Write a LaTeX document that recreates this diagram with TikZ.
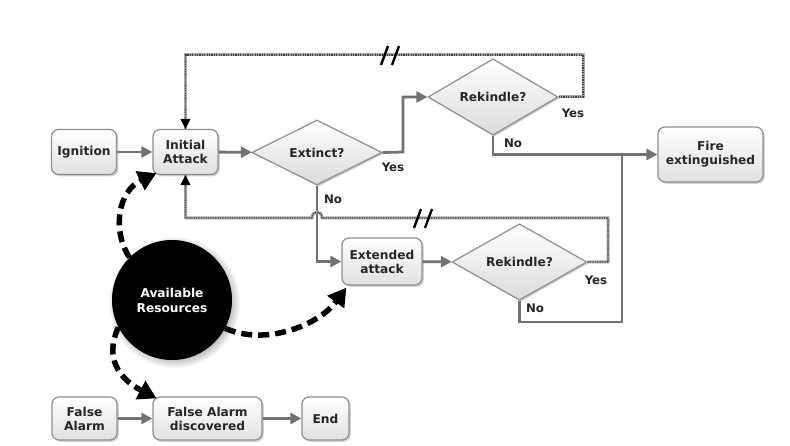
\documentclass[tikz,border=0pt]{standalone}
\usepackage{fontspec}
\setmainfont{DejaVu Sans}
\usetikzlibrary{arrows.meta,shapes.geometric,shadows}
\definecolor{flowgray}{HTML}{727272}
\definecolor{edgegray}{HTML}{8E8E8E}
\begin{document}
\begin{tikzpicture}[x=1pt,y=-1pt,
  txt/.style={font=\bfseries\fontsize{12.2}{14}\selectfont, text=black!85, align=center},
  box/.style={txt, draw=edgegray, line width=1.2pt, rounded corners=7pt, top color=white, bottom color=black!12,
    drop shadow={shadow xshift=1.8pt, shadow yshift=-1.8pt, opacity=0.35}, inner sep=1pt},
  dia/.style={txt, diamond, draw=edgegray, line width=1.2pt, top color=white, bottom color=black!14,
    drop shadow={shadow xshift=1.5pt, shadow yshift=-1.5pt, opacity=0.4}, inner sep=0pt},
  lab/.style={font=\bfseries\fontsize{11.8}{13}\selectfont, text=black!85},
  flow/.style={draw=flowgray, line width=2.8pt, -{Triangle[length=11pt,width=11pt]}},
  plain/.style={draw=flowgray, line width=2.8pt},
  fb/.style={draw=black!75, line width=1.3pt, dash pattern=on 1.2pt off 1.2pt,
    preaction={draw=black!35, line width=3pt, solid, -},
    -{Triangle[length=10pt,width=10pt,color=black]}},
  res/.style={draw=black, line width=5.5pt, dash pattern=on 11pt off 6pt,
    -{Triangle[length=18pt,width=20pt]}},
  brk/.style={draw=black, line width=2.4pt}
]
\useasboundingbox (0,0) rectangle (790,446);
\fill[white] (0,0) rectangle (790,446);

% boxes
\node[box, minimum width=65pt, minimum height=45pt] (ign) at (84,152) {Ignition};
\node[box, minimum width=65pt, minimum height=45pt] (ia) at (185.5,152) {Initial\\Attack};
\node[box, minimum width=105pt, minimum height=55pt] (fe) at (710.5,154.5) {Fire\\extinguished};
\node[box, minimum width=80pt, minimum height=47pt] (xa) at (382,261.5) {Extended\\attack};
\node[box, minimum width=65pt, minimum height=43pt] (fa) at (84.5,418.5) {False\\Alarm};
\node[box, minimum width=109pt, minimum height=43pt] (fad) at (207.5,418.5) {False Alarm\\discovered};
\node[box, minimum width=47pt, minimum height=43pt] (end) at (325.5,418.5) {End};

% diamonds
\node[dia, minimum width=130pt, minimum height=65pt] (ext) at (317,152.5) {Extinct?};
\node[dia, minimum width=130pt, minimum height=66pt] (rk1) at (493,97) {Rekindle?};
\node[dia, minimum width=135pt, minimum height=66pt] (rk2) at (519.5,262) {Rekindle?};

% resources
\node[circle, fill=black, minimum size=120pt, inner sep=0pt, align=center,
  text=white, font=\bfseries\fontsize{12.2}{15}\selectfont,
  circular drop shadow={shadow xshift=2pt, shadow yshift=-2pt, opacity=0.5}] (res) at (172,300) {Available\\Resources};

% helper coordinates
\coordinate (c1) at (403,152);
\coordinate (j) at (622,155);
\coordinate (b2) at (518,322);
\coordinate (t1) at (583,55);
\coordinate (t2) at (608,218);
\coordinate (h1) at (322,218);
\coordinate (h2) at (312,218);

% flow
\draw[flow] (ign) -- (ia);
\draw[flow] (ia) -- (ext);
\draw[flow] (ext.east) -- (c1) |- (rk1.west);
\draw[flow] (rk1.south) |- (fe.west);
\draw[plain] (rk2.south) |- (b2) -| (j);
\draw[flow] (ext.south) |- (xa.west);
\draw[flow] (xa) -- (rk2);
\draw[flow] (fa) -- (fad);
\draw[flow] (fad) -- (end);

% feedback loops
\draw[fb] (rk1.east) -| (t1) -| (ia.north);
\draw[fb] (rk2.east) -| (t2) -- (h1) .. controls +(0,-8) and +(0,-8) .. (h2) -| (ia.south);

% break marks
\draw[brk] (381,65) -- (388,46);
\draw[brk] (392,65) -- (399,46);
\draw[brk] (414,228) -- (421,209);
\draw[brk] (425,228) -- (432,209);

% resource arrows
\draw[res] (res.135) .. controls +(-18,-28) and +(-38,18) .. ([xshift=4pt,yshift=2pt]ia.south west);
\draw[res] (res.-28) .. controls +(40,18) and +(-28,38) .. ([xshift=5pt,yshift=-2pt]xa.south west);
\draw[res] (res.207) .. controls +(-14,30) and +(-38,-20) .. ([xshift=4pt,yshift=-2pt]fad.north west);

% labels
\node[lab] (y1) at (393,167) {Yes};
\node[lab] (y2) at (573,113) {Yes};
\node[lab] (n2) at (513,143) {No};
\node[lab] (n1) at (333,199) {No};
\node[lab] (y3) at (596,280) {Yes};
\node[lab] (n3) at (535,308) {No};
\end{tikzpicture}
\end{document}
